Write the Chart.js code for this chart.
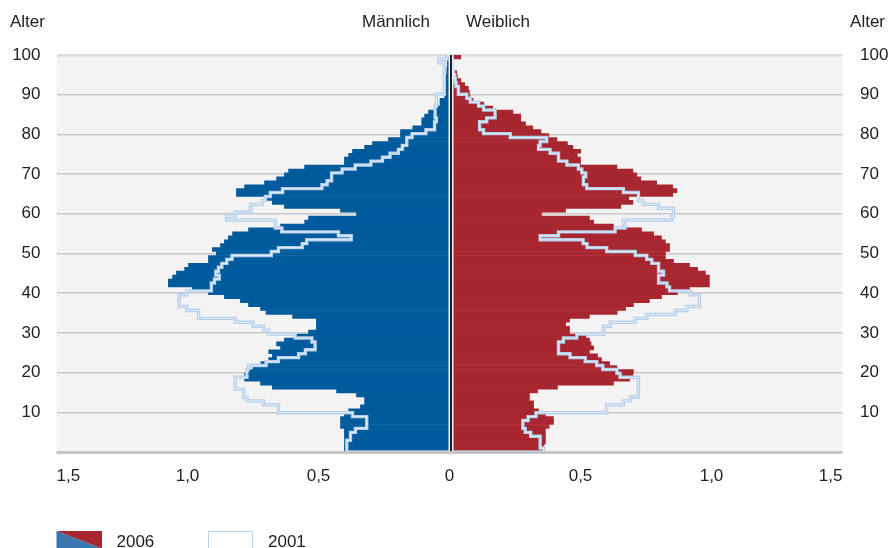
<!DOCTYPE html>
<html lang="de">
<head>
<meta charset="utf-8">
<title>Altersaufbau 2006 und 2001</title>
<script src="https://cdn.jsdelivr.net/npm/chart.js@4.4.1/dist/chart.umd.min.js"></script>
<style>
  html, body { margin: 0; padding: 0; background: #ffffff; }
  #wrap { width: 888px; height: 548px; }
</style>
</head>
<body>
<div id="wrap"><canvas id="pyramid" width="888" height="548"></canvas></div>
<script>
// Altersjahre 0 .. 100 (100 = 100 und älter)
var ages = [];
for (var a = 0; a <= 100; a++) ages.push(a);

// Anteile in Prozent (Index = Alter)
var male2006 = [
  0.401, 0.401, 0.401, 0.401, 0.401, 0.401, 0.416, 0.416, 0.416, 0.401,
  0.385, 0.340, 0.324, 0.324, 0.355, 0.431, 0.676, 0.721, 0.782, 0.782,
  0.775, 0.750, 0.720, 0.690, 0.676, 0.690, 0.645, 0.660, 0.630, 0.584,
  0.538, 0.508, 0.508, 0.508, 0.599, 0.700, 0.721, 0.767, 0.798, 0.859,
  0.920, 0.981, 1.073, 1.073, 1.057, 1.042, 1.011, 0.996, 0.920, 0.920,
  0.890, 0.905, 0.874, 0.859, 0.844, 0.828, 0.767, 0.645, 0.553, 0.538,
  0.355, 0.416, 0.630, 0.676, 0.700, 0.813, 0.813, 0.782, 0.706, 0.660,
  0.630, 0.614, 0.553, 0.401, 0.401, 0.385, 0.370, 0.324, 0.294, 0.233,
  0.187, 0.187, 0.140, 0.106, 0.106, 0.095, 0.080, 0.055, 0.036, 0.036,
  0.018, 0.016, 0.015, 0.014, 0.013, 0.012, 0.010, 0.010, 0.008, 0.008,
  0.014
];
var female2006 = [
  0.360, 0.360, 0.366, 0.366, 0.366, 0.366, 0.380, 0.397, 0.397, 0.366,
  0.340, 0.321, 0.321, 0.305, 0.305, 0.336, 0.412, 0.626, 0.687, 0.700,
  0.702, 0.639, 0.611, 0.580, 0.565, 0.534, 0.550, 0.540, 0.534, 0.520,
  0.458, 0.458, 0.443, 0.458, 0.534, 0.640, 0.672, 0.702, 0.763, 0.809,
  0.870, 0.916, 0.992, 0.992, 0.992, 0.977, 0.947, 0.916, 0.855, 0.824,
  0.824, 0.840, 0.840, 0.824, 0.809, 0.779, 0.733, 0.626, 0.550, 0.534,
  0.351, 0.443, 0.654, 0.700, 0.684, 0.852, 0.868, 0.852, 0.791, 0.730,
  0.715, 0.700, 0.639, 0.500, 0.500, 0.488, 0.501, 0.471, 0.450, 0.410,
  0.379, 0.349, 0.318, 0.290, 0.272, 0.272, 0.242, 0.165, 0.130, 0.090,
  0.078, 0.076, 0.072, 0.058, 0.043, 0.030, 0.028, 0.013, 0.013, 0.010,
  0.043
];
var male2001 = [
  0.392, 0.392, 0.392, 0.378, 0.378, 0.359, 0.316, 0.316, 0.316, 0.370,
  0.653, 0.653, 0.710, 0.773, 0.786, 0.786, 0.818, 0.818, 0.818, 0.773,
  0.773, 0.767, 0.700, 0.653, 0.576, 0.550, 0.513, 0.513, 0.525, 0.589,
  0.690, 0.710, 0.750, 0.818, 0.958, 0.958, 1.003, 1.032, 1.032, 1.032,
  1.003, 0.909, 0.909, 0.897, 0.879, 0.892, 0.882, 0.869, 0.850, 0.830,
  0.680, 0.653, 0.562, 0.545, 0.375, 0.424, 0.640, 0.665, 0.665, 0.850,
  0.818, 0.760, 0.757, 0.715, 0.703, 0.684, 0.637, 0.487, 0.467, 0.450,
  0.450, 0.410, 0.360, 0.300, 0.256, 0.227, 0.195, 0.180, 0.163, 0.163,
  0.143, 0.090, 0.057, 0.057, 0.050, 0.055, 0.055, 0.055, 0.050, 0.050,
  0.050, 0.020, 0.020, 0.020, 0.020, 0.020, 0.020, 0.020, 0.020, 0.040,
  0.010
];
var female2001 = [
  0.359, 0.346, 0.346, 0.346, 0.310, 0.289, 0.280, 0.280, 0.300, 0.330,
  0.600, 0.600, 0.664, 0.690, 0.720, 0.721, 0.721, 0.721, 0.721, 0.651,
  0.639, 0.585, 0.562, 0.518, 0.460, 0.416, 0.416, 0.416, 0.435, 0.486,
  0.588, 0.588, 0.613, 0.709, 0.753, 0.861, 0.906, 0.954, 0.954, 0.954,
  0.919, 0.840, 0.830, 0.798, 0.798, 0.817, 0.798, 0.798, 0.772, 0.753,
  0.709, 0.600, 0.525, 0.510, 0.346, 0.416, 0.632, 0.670, 0.664, 0.849,
  0.855, 0.855, 0.798, 0.740, 0.721, 0.721, 0.664, 0.524, 0.511, 0.511,
  0.520, 0.505, 0.492, 0.448, 0.416, 0.416, 0.384, 0.340, 0.346, 0.371,
  0.232, 0.130, 0.115, 0.115, 0.142, 0.174, 0.174, 0.130, 0.111, 0.079,
  0.066, 0.034, 0.034, 0.025, 0.022, 0.020, 0.015, 0.010, 0.010, 0.010,
  0.005
];

var xTickValues = [-1.5, -1.0, -0.5, 0, 0.5, 1.0, 1.5];
var ageTickValues = [10, 20, 30, 40, 50, 60, 70, 80, 90, 100];

var FONT = '"Liberation Sans", Arial, Helvetica, sans-serif';
var FONT_SIZE = 17;
var TEXT = '#222222';
var BLUE = '#005b9d';
var RED = '#a8262f';
var PLOT_BG = '#f3f3f3';

Chart.defaults.font.family = FONT;
Chart.defaults.font.size = FONT_SIZE;
Chart.defaults.color = TEXT;

// Balken: eine Zeile je Altersjahr, mittig in der Zeile
function barData(values, sign) {
  return ages.map(function(age, i) {
    return { x: sign * values[i], y: i + 0.5 };
  });
}

// Umriss 2001: linke Seite aufwärts, rechte Seite abwärts
function outlineData(male, female) {
  var pts = [];
  for (var i = 0; i < ages.length; i++) {
    pts.push({ x: -male[i], y: i });
    pts.push({ x: -male[i], y: i + 1 });
  }
  for (var j = ages.length - 1; j >= 0; j--) {
    pts.push({ x: female[j], y: j + 1 });
    pts.push({ x: female[j], y: j });
  }
  pts.push({ x: -male[0], y: 0 });
  return pts;
}

function fmtShare(v) {
  if (Math.abs(v) < 1e-9) return '0';
  return Math.abs(v).toFixed(1).replace('.', ',');
}

var plotBackground = {
  id: 'plotBackground',
  beforeDraw: function(chart) {
    var ctx = chart.ctx, area = chart.chartArea;
    ctx.save();
    ctx.fillStyle = PLOT_BG;
    ctx.fillRect(area.left, area.top, area.right - area.left, area.bottom - area.top);
    ctx.restore();
  }
};

var overlay = {
  id: 'overlay',
  afterDraw: function(chart) {
    var ctx = chart.ctx, area = chart.chartArea;
    var x0 = chart.scales.x.getPixelForValue(0);
    ctx.save();

    // Grundlinie unten
    ctx.strokeStyle = '#c6c6c6';
    ctx.lineWidth = 3;
    ctx.beginPath();
    ctx.moveTo(area.left, area.bottom + 0.5);
    ctx.lineTo(area.right, area.bottom + 0.5);
    ctx.stroke();

    // Mittellinie
    ctx.strokeStyle = PLOT_BG;
    ctx.lineWidth = 5;
    ctx.beginPath();
    ctx.moveTo(x0 + 1.5, area.top);
    ctx.lineTo(x0 + 1.5, area.bottom - 1);
    ctx.stroke();
    ctx.strokeStyle = '#1e1e1e';
    ctx.lineWidth = 2;
    ctx.beginPath();
    ctx.moveTo(x0 + 1.5, area.top);
    ctx.lineTo(x0 + 1.5, area.bottom - 1);
    ctx.stroke();

    // Kopfzeile
    ctx.font = FONT_SIZE + 'px ' + FONT;
    ctx.fillStyle = TEXT;
    ctx.textBaseline = 'alphabetic';
    ctx.textAlign = 'left';
    ctx.fillText('Alter', 10, 27);
    ctx.fillText('Weiblich', x0 + 16.5, 27);
    ctx.textAlign = 'right';
    ctx.fillText('Alter', 885, 27);
    ctx.fillText('Männlich', x0 - 19.5, 27);

    // Legende
    var bx = area.left, by = 531, bw = 45.5, bh = 17.5;
    ctx.fillStyle = '#3a76b0';
    ctx.beginPath();
    ctx.moveTo(bx, by);
    ctx.lineTo(bx + bw, by + bh);
    ctx.lineTo(bx, by + bh);
    ctx.closePath();
    ctx.fill();
    ctx.fillStyle = RED;
    ctx.beginPath();
    ctx.moveTo(bx, by);
    ctx.lineTo(bx + bw, by);
    ctx.lineTo(bx + bw, by + bh);
    ctx.closePath();
    ctx.fill();
    ctx.fillStyle = TEXT;
    ctx.textAlign = 'left';
    ctx.fillText('2006', 116.5, 547);

    ctx.fillStyle = '#ffffff';
    ctx.fillRect(208.5, 531.5, 44, 20);
    ctx.strokeStyle = '#b9d3ee';
    ctx.lineWidth = 1;
    ctx.strokeRect(208.5, 531.5, 44, 20);
    ctx.fillStyle = TEXT;
    ctx.fillText('2001', 268, 547);

    ctx.restore();
  }
};

var ctx = document.getElementById('pyramid').getContext('2d');
new Chart(ctx, {
  type: 'bar',
  data: {
    datasets: [
      {
        type: 'line',
        label: '2001',
        data: outlineData(male2001, female2001),
        xAxisID: 'x',
        yAxisID: 'yRows',
        borderColor: '#dde9f6',
        borderWidth: 1.2,
        pointRadius: 0,
        fill: false,
        tension: 0,
        order: 0
      },
      {
        type: 'line',
        label: '2001 Rand',
        data: outlineData(male2001, female2001),
        xAxisID: 'x',
        yAxisID: 'yRows',
        borderColor: '#b3cdea',
        borderWidth: 3.4,
        pointRadius: 0,
        fill: false,
        tension: 0,
        order: 1
      },
      {
        label: '2006 Männlich',
        data: barData(male2006, -1),
        indexAxis: 'y',
        xAxisID: 'x',
        yAxisID: 'yRows',
        backgroundColor: BLUE,
        borderWidth: 0,
        barPercentage: 1,
        categoryPercentage: 1,
        grouped: false,
        order: 2
      },
      {
        label: '2006 Weiblich',
        data: barData(female2006, 1),
        indexAxis: 'y',
        xAxisID: 'x',
        yAxisID: 'yRows',
        backgroundColor: RED,
        borderWidth: 0,
        barPercentage: 1,
        categoryPercentage: 1,
        grouped: false,
        order: 2
      }
    ]
  },
  options: {
    responsive: false,
    animation: false,
    devicePixelRatio: 1,
    layout: { padding: { top: 55, left: 0, right: 0, bottom: 0 } },
    plugins: {
      legend: { display: false },
      tooltip: { enabled: false }
    },
    scales: {
      x: {
        type: 'linear',
        position: 'bottom',
        min: -1.5,
        max: 1.5,
        offset: false,
        grid: { display: false, drawTicks: false },
        border: { display: false },
        afterBuildTicks: function(scale) {
          scale.ticks = xTickValues.map(function(v) { return { value: v }; });
        },
        ticks: {
          autoSkip: false,
          maxRotation: 0,
          align: 'inner',
          padding: 14,
          color: TEXT,
          callback: function(value) { return fmtShare(value); }
        },
        afterFit: function(scale) { scale.height = 96; }
      },
      yRows: {
        type: 'linear',
        axis: 'y',
        position: 'left',
        display: false,
        min: 0,
        max: 101,
        offset: false
      },
      yLeft: {
        type: 'linear',
        axis: 'y',
        position: 'left',
        min: 0,
        max: 100,
        offset: false,
        z: 1,
        afterBuildTicks: function(scale) {
          scale.ticks = [{ value: 0 }].concat(ageTickValues.map(function(v) { return { value: v }; }));
        },
        grid: {
          drawTicks: false,
          color: function(c) {
            var v = c.tick ? c.tick.value : 0;
            if (v === 0) return 'rgba(0,0,0,0)';
            if (v === 100) return '#dcdcdc';
            return 'rgba(196,196,196,0.9)';
          },
          lineWidth: function(c) {
            var v = c.tick ? c.tick.value : 0;
            return v === 100 ? 2.5 : 1.5;
          }
        },
        border: { display: false },
        ticks: {
          autoSkip: false,
          padding: 16,
          color: TEXT,
          callback: function(value) { return value === 0 ? '' : String(value); }
        },
        afterFit: function(scale) { scale.width = 56.5; }
      },
      yRight: {
        type: 'linear',
        axis: 'y',
        position: 'right',
        min: 0,
        max: 100,
        offset: false,
        afterBuildTicks: function(scale) {
          scale.ticks = ageTickValues.map(function(v) { return { value: v }; });
        },
        grid: { display: false, drawTicks: false },
        border: { display: false },
        ticks: {
          autoSkip: false,
          padding: 17.5,
          color: TEXT,
          callback: function(value) { return String(value); }
        },
        afterFit: function(scale) { scale.width = 45.5; }
      }
    }
  },
  plugins: [plotBackground, overlay]
});
</script>
</body>
</html>
